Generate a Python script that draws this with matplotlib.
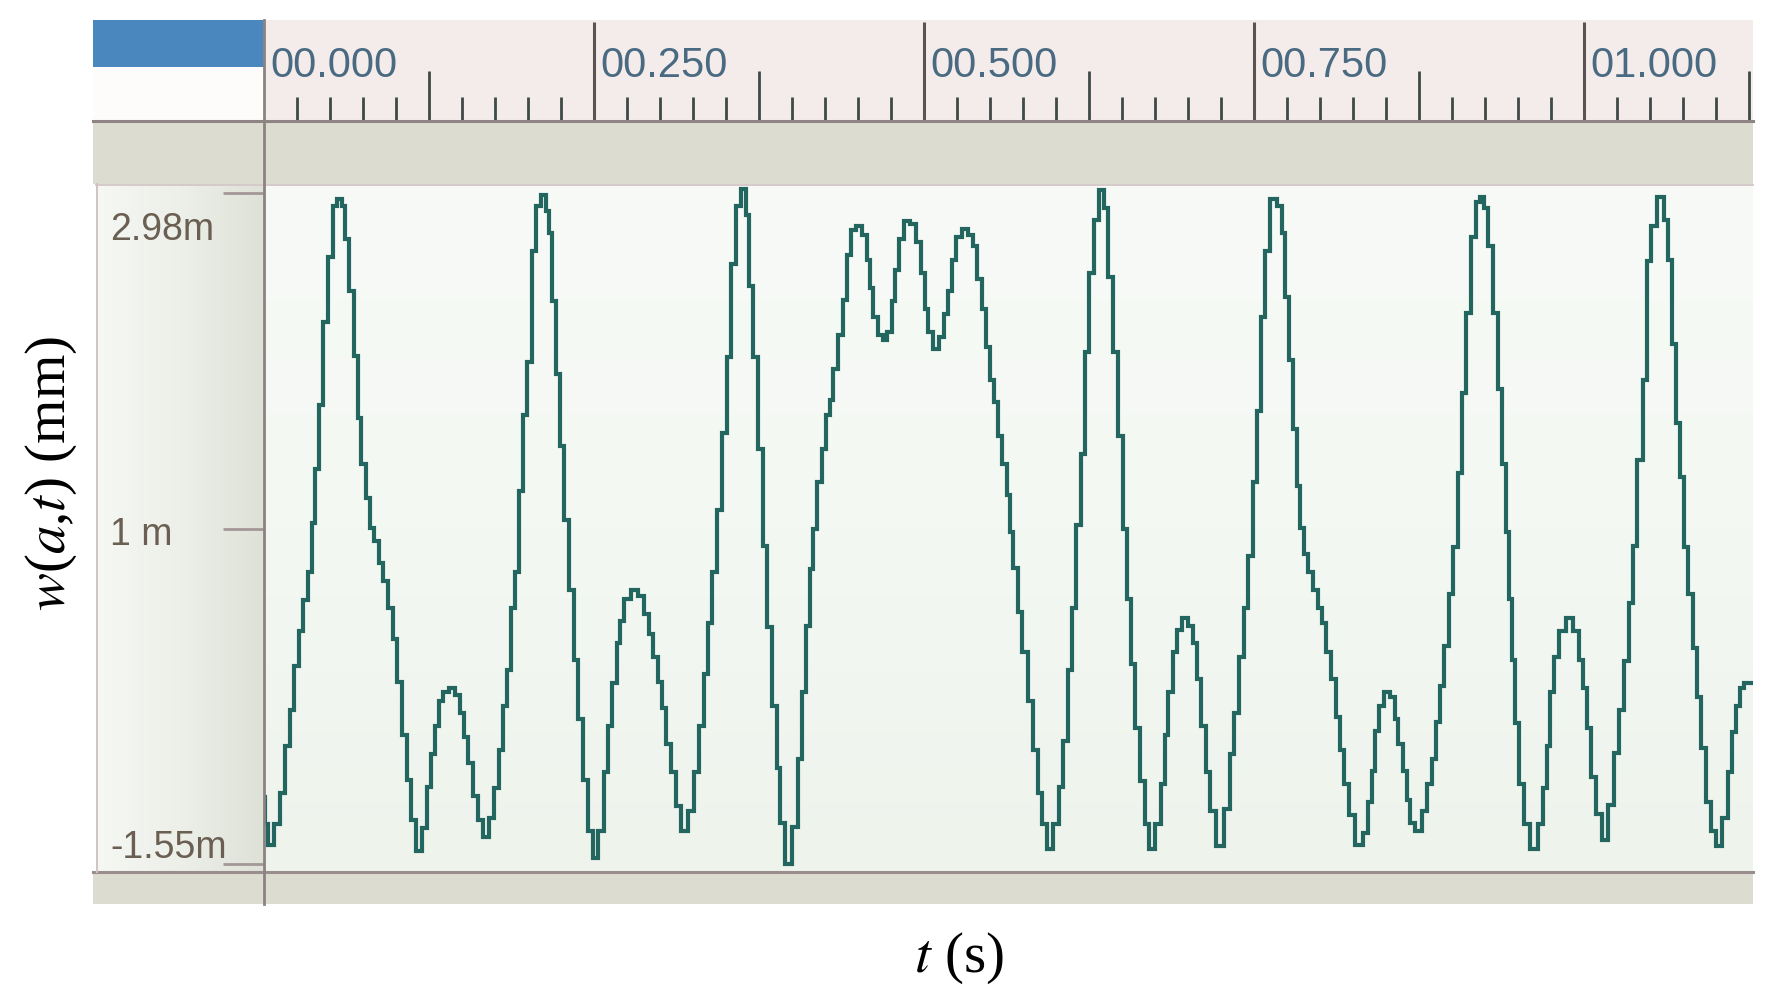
import numpy as np
import matplotlib
matplotlib.use('Agg')
import matplotlib.pyplot as plt
from matplotlib.patches import Rectangle
from matplotlib.lines import Line2D

W, H = 1777, 1004

#### data: (t [ms], w [mm])
seg1 = [(0.0, -1.10), (1.5, -1.28), (4.8, -1.42), (9.9, -1.28), (13.7, -1.07), (18.7, -0.75),
        (21.2, -0.51), (25.0, -0.21), (27.5, 0.02), (31.3, 0.23), (35.1, 0.42), (36.9, 0.75),
        (40.2, 1.12), (43.4, 1.55), (46.5, 2.11), (50.3, 2.55), (53.5, 2.89), (57.8, 2.94),
        (60.4, 2.89), (62.9, 2.67), (65.4, 2.32), (70.5, 1.88), (71.7, 1.46), (75.5, 1.15),
        (79.3, 0.92), (81.8, 0.72), (85.6, 0.63), (88.1, 0.48), (91.9, 0.36), (95.7, 0.18),
        (99.5, -0.03), (102.0, -0.32), (107.1, -0.68), (109.6, -0.98), (113.4, -1.25), (117.2, -1.46),
        (122.2, -1.31), (124.8, -1.03), (128.5, -0.81), (131.1, -0.62), (133.6, -0.45), (137.4, -0.39),
        (142.4, -0.36), (147.5, -0.41), (150.0, -0.53), (152.5, -0.69), (156.3, -0.87), (160.1, -1.09),
        (163.9, -1.25), (167.7, -1.37), (172.7, -1.24), (176.5, -1.04), (179.0, -0.78), (182.8, -0.48),
        (185.4, -0.24), (189.1, 0.18), (191.7, 0.42)]
seg2 = [(195.2, 0.97), (197.7, 1.48), (201.5, 1.84), (204.0, 2.59), (207.8, 2.89), (211.6, 2.97),
        (215.4, 2.86), (216.7, 2.71), (219.2, 2.25), (223.0, 1.76), (225.5, 1.27), (229.3, 0.77),
        (233.1, 0.30), (236.9, -0.17), (239.4, -0.57), (243.2, -0.98), (247.0, -1.33), (250.8, -1.51),
        (255.8, -1.33), (259.6, -0.93), (262.1, -0.62), (265.9, -0.33), (268.4, -0.06), (271.0, 0.09),
        (274.7, 0.24), (281.0, 0.30), (286.1, 0.26), (289.9, 0.14), (293.7, 0.00), (296.2, -0.15),
        (300.0, -0.32), (302.5, -0.50), (306.3, -0.74), (310.1, -0.93), (313.9, -1.16), (317.7, -1.33),
        (324.0, -1.19), (327.8, -0.93), (331.5, -0.62), (335.3, -0.27), (337.9, 0.08), (341.6, 0.42),
        (345.4, 0.84), (349.2, 1.36), (351.8, 1.87), (355.5, 2.50), (359.3, 2.89), (363.1, 3.01),
        (366.9, 2.83), (368.2, 2.35), (373.2, 1.87), (376.0, 1.25)]
seg3 = [(379.5, 0.60), (383.3, 0.05), (387.1, -0.48), (389.6, -0.90), (392.2, -1.27), (397.2, -1.55),
        (402.3, -1.30), (406.1, -0.84), (408.6, -0.39), (412.4, 0.06), (414.9, 0.44), (417.4, 0.71),
        (421.2, 1.03), (423.7, 1.25), (427.5, 1.48), (430.0, 1.58), (432.6, 1.79), (436.4, 2.02),
        (440.1, 2.26), (442.7, 2.56), (446.5, 2.73), (450.2, 2.76), (455.3, 2.70), (457.8, 2.53),
        (460.3, 2.34), (462.9, 2.14), (466.7, 2.02), (470.4, 1.99), (474.2, 2.04), (476.8, 2.25),
        (479.3, 2.46), (483.1, 2.67), (486.9, 2.79), (491.9, 2.77), (495.7, 2.65), (499.5, 2.44),
        (502.0, 2.20), (504.5, 2.04), (509.6, 1.93), (513.4, 2.01), (517.2, 2.16), (519.7, 2.32),
        (522.2, 2.53), (526.0, 2.68), (531.0, 2.74), (536.1, 2.70), (538.6, 2.62), (542.4, 2.40),
        (544.9, 2.20), (548.7, 1.94), (551.2, 1.72), (555.0, 1.57), (557.6, 1.34), (561.3, 1.15),
        (563.9, 0.94)]
seg4 = [(566.4, 0.69), (569.0, 0.45), (572.7, 0.15), (576.5, -0.12), (580.3, -0.45), (584.1, -0.78),
        (587.9, -1.07), (590.4, -1.28), (595.5, -1.45), (600.5, -1.28), (604.3, -1.03), (606.8, -0.72),
        (610.6, -0.24), (613.1, 0.18), (616.9, 0.74), (620.7, 1.22), (623.2, 1.91), (627.0, 2.44),
        (630.8, 2.80), (634.6, 3.00), (638.4, 2.88), (640.9, 2.41), (644.7, 1.91), (648.5, 1.34),
        (652.3, 0.71), (654.8, 0.24), (658.6, -0.20), (661.1, -0.63), (666.2, -0.99), (668.7, -1.28),
        (672.5, -1.45), (677.5, -1.28), (681.3, -1.01), (683.8, -0.68), (686.4, -0.39), (690.1, -0.12),
        (692.7, 0.03), (697.7, 0.11), (702.8, 0.06), (705.3, -0.06), (707.8, -0.30), (711.6, -0.62),
        (715.4, -0.93), (717.9, -1.19), (724.2, -1.43), (730.5, -1.18), (733.1, -0.81), (736.9, -0.53),
        (740.6, -0.15), (744.4, 0.18), (747.0, 0.53), (750.7, 1.03), (753.3, 1.51)]
seg5 = [(757.1, 2.14), (759.6, 2.59), (764.6, 2.94), (769.7, 2.89), (772.2, 2.71), (774.7, 2.28),
        (778.5, 1.85), (781.1, 1.39), (783.6, 1.00), (786.1, 0.72), (789.9, 0.54), (792.4, 0.42),
        (796.2, 0.30), (800.0, 0.18), (802.5, 0.08), (806.3, -0.12), (810.1, -0.30), (813.9, -0.56),
        (816.4, -0.78), (820.2, -1.01), (824.0, -1.22), (829.0, -1.42), (835.4, -1.34), (837.9, -1.13),
        (840.4, -0.92), (842.9, -0.65), (846.7, -0.48), (850.5, -0.39), (855.6, -0.42), (858.1, -0.57),
        (860.6, -0.74), (864.4, -0.92), (866.9, -1.12), (869.4, -1.27), (874.5, -1.33), (879.5, -1.19),
        (883.3, -1.01), (885.9, -0.84), (889.6, -0.59), (892.2, -0.35), (895.9, -0.08), (899.7, 0.27),
        (902.3, 0.59), (906.1, 1.09), (908.6, 1.63), (912.4, 2.17), (916.2, 2.68), (919.9, 2.92),
        (922.5, 2.95), (926.2, 2.88), (928.8, 2.62), (932.6, 2.17), (936.4, 1.66), (938.9, 1.15),
        (942.7, 0.69)]
seg6 = [(943.9, 0.24), (946.5, -0.17), (949.0, -0.60), (952.8, -1.01), (956.6, -1.28), (961.6, -1.45),
        (967.9, -1.28), (970.5, -1.04), (973.0, -0.75), (975.5, -0.39), (979.3, -0.15), (983.1, 0.02),
        (989.4, 0.11), (994.4, 0.02), (998.2, -0.17), (1000.8, -0.36), (1003.3, -0.63), (1007.1, -0.96),
        (1010.9, -1.21), (1015.9, -1.39), (1021.0, -1.15), (1024.7, -0.80), (1028.5, -0.51), (1032.3, -0.18),
        (1036.1, 0.21), (1038.6, 0.60), (1042.4, 1.18), (1046.2, 1.72), (1048.7, 2.52), (1052.5, 2.76),
        (1058.8, 2.95), (1062.6, 2.80), (1065.1, 2.53), (1067.7, 1.96), (1071.4, 1.43), (1074.0, 1.06),
        (1077.8, 0.59), (1080.3, 0.27), (1084.1, -0.09), (1086.6, -0.42), (1090.4, -0.77), (1094.2, -1.13),
        (1098.0, -1.33), (1101.8, -1.43), (1106.8, -1.24), (1110.6, -0.93), (1113.1, -0.66), (1116.9, -0.48),
        (1119.4, -0.36), (1123.2, -0.33), (1127.8, -0.33)]

ruler_major = [0.0, 0.25, 0.5, 0.75, 1.0]
ruler_labels = ['00.000', '00.250', '00.500', '00.750', '01.000']
y_ticks = [2.98, 0.715, -1.55]
y_tick_labels = ['2.98m', '1 m', '-1.55m']
t_end = 1.128
w_lim = (-1.604, 3.041)

#### helpers
def fbox(x0, y0, x1, y1):
  # pixel box (origin top-left) -> figure fraction [l, b, w, h]
  return [x0 / W, 1 - y1 / H, (x1 - x0) / W, (y1 - y0) / H]

def rect(fig, x0, y0, x1, y1, color, z=0):
  l, b, w, h = fbox(x0, y0, x1, y1)
  fig.patches.append(Rectangle((l, b), w, h, transform=fig.transFigure, facecolor=color,
                               edgecolor='none', zorder=z))

def hline(fig, x0, x1, y, color, lw):
  fig.add_artist(Line2D([x0 / W, x1 / W], [1 - y / H, 1 - y / H], transform=fig.transFigure,
                        color=color, lw=lw, zorder=20))

def vline(fig, x, y0, y1, color, lw):
  fig.add_artist(Line2D([x / W, x / W], [1 - y0 / H, 1 - y1 / H], transform=fig.transFigure,
                        color=color, lw=lw, zorder=20))

plt.rcParams['mathtext.fontset'] = 'stix'

fig = plt.figure(figsize=(W / 100, H / 100), dpi=100)
fig.patch.set_facecolor('white')

# blocks of the scope window
rect(fig, 93, 21, 264, 68, '#4b87bf')
rect(fig, 93, 68, 264, 123, '#fdfcfb')
rect(fig, 93, 123, 1753, 185, '#dcdcd1')
rect(fig, 93, 873, 1753, 905, '#dcdcd1')

# ruler
ax_r = fig.add_axes(fbox(264, 21, 1753, 123))
ax_r.set_xlim(0, t_end)
ax_r.set_ylim(0, 1)
ax_r.axis('off')
ax_r.add_patch(Rectangle((0, 0), 1, 1, transform=ax_r.transAxes, facecolor='#f3ecea', zorder=0))
minor = np.arange(0, t_end, 0.025)
for k, t in enumerate(minor):
  if k % 10 == 0:
    continue
  top = 0.5 if k % 5 == 0 else 0.245
  ax_r.vlines(t, 0, top, color='#3d4a47', lw=2.0, zorder=2)
ax_r.vlines(ruler_major[1:], 0, 0.98, color='#5b5353', lw=2.2, zorder=2)
for t, lab in zip(ruler_major, ruler_labels):
  ax_r.text(t + 0.0045, 0.451, lab, fontsize=30, family='Liberation Sans', color='#4a6a82',
            ha='left', va='baseline', zorder=3)

# left label panel
ax_l = fig.add_axes(fbox(96, 185, 264, 873))
grad = np.linspace(0, 1, 256)[None, :]
cm_l = matplotlib.colors.LinearSegmentedColormap.from_list('lp', ['#f5f8f3', '#edf0e9', '#dee1d6'])
ax_l.imshow(grad, extent=[0, 1, w_lim[0], w_lim[1]], aspect='auto', cmap=cm_l, zorder=0)
ax_l.set_xlim(0, 1)
ax_l.set_ylim(*w_lim)
ax_l.axis('off')
ax_l.hlines(y_ticks, 0.757, 1.0, color='#a39797', lw=2.0, zorder=2)
offsets = [-33.1, -10.8, 5.0]
for v, lab, dy in zip(y_ticks, y_tick_labels, offsets):
  ax_l.annotate(lab, (0.083, v), xytext=(0, dy), textcoords='offset points', fontsize=27,
                family='Liberation Sans', color='#6a5f52', ha='left', va='baseline')

# plot area background
ax_bg = fig.add_axes(fbox(264, 185, 1753, 873))
cm_p = matplotlib.colors.LinearSegmentedColormap.from_list('pa', ['#eef3ec', '#f4f8f3', '#f7faf6'])
ax_bg.imshow(np.linspace(0, 1, 256)[:, None], origin='lower', extent=[0, 1, 0, 1], aspect='auto', cmap=cm_p)
ax_bg.axis('off')

# waveform
ax = fig.add_axes(fbox(264, 185, 1753, 873))
ax.patch.set_alpha(0)
pts = np.array(seg1 + seg2 + seg3 + seg4 + seg5 + seg6)
ax.plot(pts[:, 0] / 1000.0, pts[:, 1], drawstyle='steps-mid', color='#23665f', lw=3.0,
        solid_joinstyle='miter')
ax.set_xlim(0, t_end)
ax.set_ylim(*w_lim)
ax.axis('off')

# frame lines
hline(fig, 93, 1753, 122, '#8f8484', 2.2)
hline(fig, 96, 1753, 185.5, '#d6c9c9', 1.4)
hline(fig, 93, 1753, 873, '#9a8d8d', 2.2)
vline(fig, 97, 185, 873, '#d2c3c3', 1.4)
vline(fig, 264, 21, 905, '#8d8282', 2.0)

# axis titles
fig.text(51 / W, 1 - 473 / H, r'$w$($a$,$t$) (mm)', rotation=90, fontsize=41,
         family='Liberation Serif', ha='center', va='center', color='black')
fig.text(959 / W, 1 - 958 / H, r'$t$ (s)', fontsize=41, family='Liberation Serif',
         ha='center', va='center', color='black')

fig.savefig('out.png', dpi=100)
